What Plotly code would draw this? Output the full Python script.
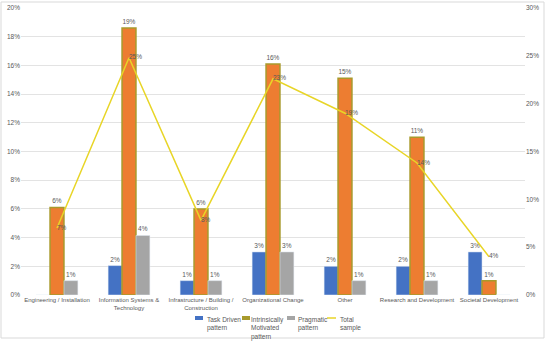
import plotly.graph_objects as go

categories = ["Engineering / Installation", "Information Systems &<br>Technology",
              "Infrastructure / Building /<br>Construction", "Organizational Change",
              "Other", "Research and Development", "Societal Development"]
task_driven = [0, 2.05, 1.0, 3.0, 2.0, 2.0, 3.0]
intrinsic = [6.1, 18.6, 6.0, 16.1, 15.1, 11.0, 1.0]
pragmatic = [1.0, 4.15, 1.0, 3.0, 1.0, 1.0, 0]
total = [7.0, 24.8, 7.8, 22.6, 19.0, 13.8, 4.0]
legend_names = ["Task Driven<br>pattern", "Intrinsically<br>Motivated<br>pattern",
                "Pragmatic<br>pattern", "Total<br>sample"]
colors = ["#4472C4", "#ED7D31", "#A5A5A5", "#E8D527"]

def lab(vals):
    return ["" if v == 0 else f"{round(v):.0f}%" for v in vals]

txtfont = dict(size=6.5, color="#595959", family="Liberation Sans")
fig = go.Figure()
fig.add_trace(go.Bar(x=categories, y=task_driven, name=legend_names[0],
                     marker_color=colors[0], text=lab(task_driven), textposition="outside",
                     textfont=txtfont, cliponaxis=False))
fig.add_trace(go.Bar(x=categories, y=intrinsic, name=legend_names[1],
                     marker=dict(color=colors[1], line=dict(color="#A89A2C", width=1.5)),
                     text=lab(intrinsic), textposition="outside",
                     textfont=txtfont, cliponaxis=False))
fig.add_trace(go.Bar(x=categories, y=pragmatic, name=legend_names[2],
                     marker_color=colors[2], text=lab(pragmatic), textposition="outside",
                     textfont=txtfont, cliponaxis=False))
fig.add_trace(go.Scatter(x=categories, y=total, name=legend_names[3], yaxis="y2",
                         mode="lines+text", line=dict(color=colors[3], width=1.5),
                         text=[f"{round(v):.0f}%" for v in total], textposition="middle right",
                         textfont=txtfont, cliponaxis=False))

L, R, T, B = 21, 25, 8, 47
PW, PH = 550 - L - R, 342 - T - B
def px(x): return (x - L) / PW
def py(y): return (342 - B - y) / PH

shapes = [dict(type="rect", xref="paper", yref="paper", x0=px(1), x1=px(544), y0=py(338), y1=py(2),
               line=dict(color="#D9D9D9", width=1))]
annotations = []
leg_x = [195, 242, 287, 327]
text_x = [205, 249, 296, 338]
swatch_cols = ["#4472C4", "#A89A2C", "#A5A5A5", "#E8D527"]
for i in range(4):
    if i < 3:
        shapes.append(dict(type="rect", xref="paper", yref="paper", x0=px(leg_x[i]), x1=px(leg_x[i] + 8),
                           y0=py(320), y1=py(316), fillcolor=swatch_cols[i], line=dict(width=0)))
    else:
        shapes.append(dict(type="line", xref="paper", yref="paper", x0=px(leg_x[i]), x1=px(leg_x[i] + 9),
                           y0=py(318), y1=py(318), line=dict(color=swatch_cols[i], width=1.5)))
    annotations.append(dict(xref="paper", yref="paper", x=px(text_x[i]), y=py(313.5), xanchor="left",
                            yanchor="top", align="left", showarrow=False, text=legend_names[i],
                            font=dict(size=6.5, color="#595959", family="Liberation Sans")))

fig.update_layout(
    width=550, height=342,
    margin=dict(l=L, r=R, t=T, b=B),
    paper_bgcolor="white", plot_bgcolor="white",
    font=dict(family="Liberation Sans", size=6.5, color="#595959"),
    barmode="group", bargap=0.42, bargroupgap=0,
    showlegend=False,
    xaxis=dict(showline=False, tickfont=dict(size=6), ticks="", tickangle=0, automargin=False),
    yaxis=dict(range=[0, 20], dtick=2, ticksuffix="%", showgrid=True, gridcolor="#E3E3E3",
               gridwidth=1, zeroline=False, tickfont=dict(size=6.5), automargin=False,
               ticklabeloverflow="allow"),
    yaxis2=dict(range=[0, 30], dtick=5, ticksuffix="%", overlaying="y", side="right",
                showgrid=False, zeroline=False, tickfont=dict(size=6.5), automargin=False,
                ticklabeloverflow="allow"),
    shapes=shapes, annotations=annotations,
)
fig.write_html("out.html", config={"displayModeBar": False},
               post_script="document.body.style.margin='0';document.body.style.padding='0';")
